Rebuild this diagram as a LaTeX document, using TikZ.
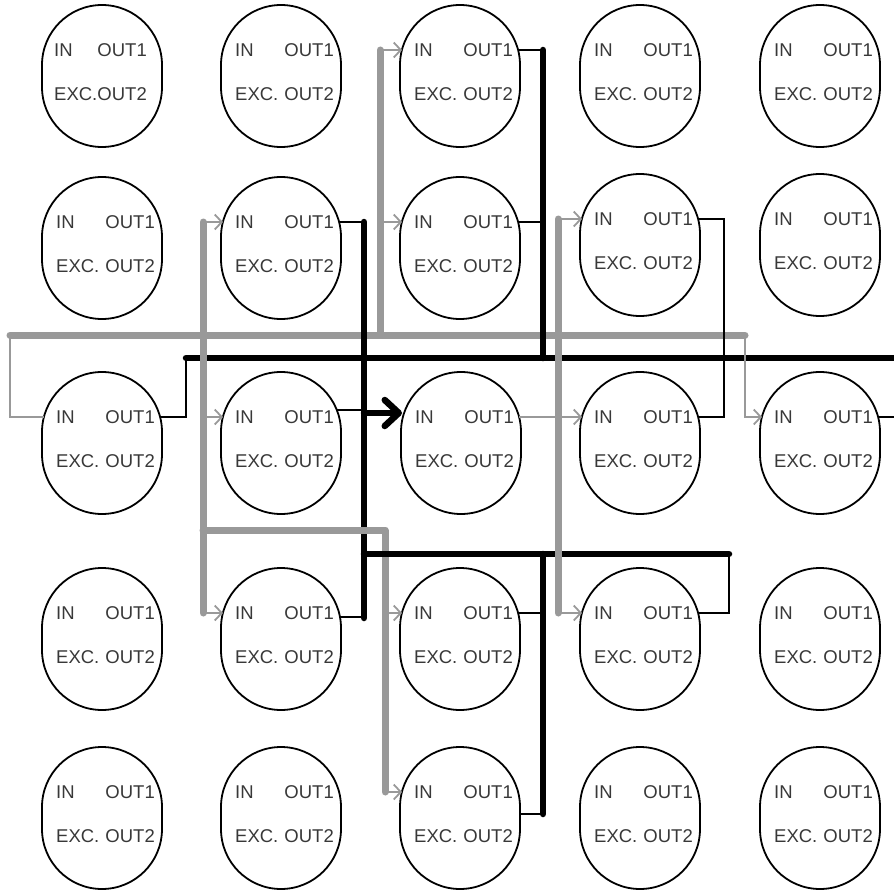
\documentclass[tikz,border=0pt]{standalone}
\usepackage{fontspec}
\setmainfont{Liberation Sans}
\usetikzlibrary{arrows.meta,calc}
\definecolor{busgray}{HTML}{999999}
\definecolor{txtgray}{HTML}{383838}
\tikzset{
  cellbox/.style={shape=rectangle, minimum width=120pt, minimum height=142pt, inner sep=0pt, draw=none},
  cellline/.style={draw=black, line width=1.8pt},
  lbl/.style={font=\fontsize{18.5}{20}\selectfont, text=txtgray, inner sep=0pt},
  gbus/.style={draw=busgray, line width=7pt, line cap=round, line join=round},
  bbus/.style={draw=black, line width=6.5pt, line cap=round, line join=round},
  gwire/.style={draw=busgray, line width=1.8pt},
  bwire/.style={draw=black, line width=1.6pt},
  garrow/.style={gwire, -{Straight Barb[length=7pt,width=15pt]}},
  barrow/.style={draw=black, line width=6.5pt, line cap=round, -{Straight Barb[length=14pt,width=26pt,round]}},
}
% name, cx, top, right offset of OUT texts, left offset of IN/EXC texts
\newcommand\drawcell[5]{%
  \node[cellbox] (#1) at (#2,#3+71) {};
  \draw[cellline] ($(#1)+(-60,-11)$) -- ($(#1)+(-60,11)$)
     arc[start angle=180,end angle=0,x radius=60,y radius=60]
     -- ($(#1)+(60,-11)$)
     arc[start angle=0,end angle=-180,x radius=60,y radius=60] -- cycle;
  \node[lbl, anchor=west] (#1-tin) at ($(#1)+(#5,-26)$) {IN};
  \node[lbl, anchor=east] (#1-to1) at ($(#1)+(#4,-26)$) {OUT1};
  \node[lbl, anchor=west] (#1-tex) at ($(#1)+(#5,18)$) {EXC.};
  \node[lbl, anchor=east] (#1-to2) at ($(#1)+(#4,18)$) {OUT2};
  \coordinate (#1-in) at ($(#1)+(-58,-26)$);
  \coordinate (#1-out) at ($(#1)+(58,-26)$);
}
\begin{document}
\begin{tikzpicture}[x=1pt,y=-1pt]
\useasboundingbox (0,0) rectangle (894,891);
% cells
\drawcell{n11}{102}{5}{45}{-48}
\drawcell{n12}{281}{5}{53}{-46}
\drawcell{n13}{460}{5}{53}{-46}
\drawcell{n14}{640}{5}{53}{-46}
\drawcell{n15}{820}{5}{53}{-46}
\drawcell{n21}{102}{177}{53}{-46}
\drawcell{n22}{281}{177}{53}{-46}
\drawcell{n23}{460}{177}{53}{-46}
\drawcell{n24}{640}{174}{53}{-46}
\drawcell{n25}{820}{174}{53}{-46}
\drawcell{n31}{102}{372}{53}{-46}
\drawcell{n32}{281}{372}{53}{-46}
\drawcell{n33}{461}{372}{53}{-46}
\drawcell{n34}{640}{372}{53}{-46}
\drawcell{n35}{820}{372}{53}{-46}
\drawcell{n41}{102}{568}{53}{-46}
\drawcell{n42}{281}{568}{53}{-46}
\drawcell{n43}{460}{568}{53}{-46}
\drawcell{n44}{640}{568}{53}{-46}
\drawcell{n45}{820}{568}{53}{-46}
\drawcell{n51}{102}{747}{53}{-46}
\drawcell{n52}{281}{747}{53}{-46}
\drawcell{n53}{460}{747}{53}{-46}
\drawcell{n54}{640}{747}{53}{-46}
\drawcell{n55}{820}{747}{53}{-46}
% junction coordinates
\coordinate (gL) at (10,335);
\coordinate (gR) at (745,335);
\coordinate (bL) at (186,358);
\coordinate (bR) at (897,358);
\coordinate (j1) at (724,358);
\coordinate (b2t) at (543,50);
\coordinate (b3t) at (364,222);
\coordinate (b3b) at (364,618);
\coordinate (b3a) at (364,413);
\coordinate (n33-inb) at (402,413);
\coordinate (n32-o) at ($(n32)+(56,-33)$);
\coordinate (n42-o) at ($(n42-out)+(0,4)$);
\coordinate (b4l) at (364,554);
\coordinate (b4r) at (729,554);
\coordinate (b4t) at (543,554);
\coordinate (b4b) at (543,814);
\coordinate (n53e) at ($(n53.east)+(0,-4)$);
\coordinate (g2t) at (380,50);
\coordinate (g3t) at (203,222);
\coordinate (g3b) at (203,613);
\coordinate (g3m) at (203,530);
\coordinate (g3c) at (385,530);
\coordinate (g3e) at (385,792);
\coordinate (g4t) at (558,219);
\coordinate (g4b) at (558,613);
% gray bus
\draw[gbus] (gL) -- (gR);
% black bus
\draw[bbus] (bL) -- (bR);
% black verticals
\draw[bbus] (b2t) -- (b2t |- bL);
\draw[bbus] (b3t) -- (b3b);
% gray verticals
\draw[gbus] (g2t) -- (g2t |- gL);
\draw[gbus] (g3t) -- (g3b);
\draw[gbus] (g3m) -- (g3c) -- (g3e);
% lower black bus
\draw[bbus] (b4l) -- (b4r);
\draw[bbus] (b4t) -- (b4b);
\draw[gbus] (g4t) -- (g4b);
% thin gray wires / arrows
\draw[gwire] (gL) |- (n31-in);
\draw[garrow] (gR) |- (n35-in);
\draw[garrow] (g2t) -- (n13-in);
\draw[garrow] (g2t |- n23-in) -- (n23-in);
\draw[garrow] (g3t) -- (n22-in);
\draw[garrow] (g3t |- n32-in) -- (n32-in);
\draw[garrow] (g3b) -- (n42-in);
\draw[garrow] (g3c |- n43-in) -- (n43-in);
\draw[garrow] (g3e) -- (n53-in);
\draw[garrow] (g4t) -- (n24-in);
\draw[garrow] (g4b) -- (n44-in);
\draw[garrow] (n33-out) -- (n34-in);
% thin black wires
\draw[bwire] (n31-out) -| (bL);
\draw[bwire] (n24-out) -| (j1) |- (n34-out);
\draw[bwire] (n35-out) -- (n35-out -| bR);
\draw[bwire] (n13-out) -- (n13-out -| b2t);
\draw[bwire] (n23-out) -- (n23-out -| b2t);
\draw[bwire] (n22-out) -- (n22-out -| b3t);
\draw[bwire] (n42-o) -- (n42-o -| b3t);
\draw[bwire] (n32-o) -- (n32-o -| b3t);
\draw[bwire] (n43-out) -- (n43-out -| b4t);
\draw[bwire] (n53e) -- (n53e -| b4t);
\draw[bwire] (n44-out) -| (b4r);
% thick black arrow
\draw[barrow] (b3a) -- (n33-inb);
\end{tikzpicture}
\end{document}
